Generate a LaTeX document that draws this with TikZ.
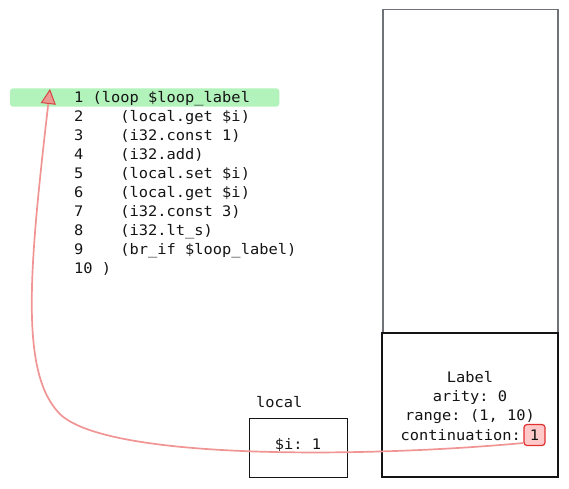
\documentclass[tikz,border=0pt]{standalone}
\usepackage{fontspec}
\setmonofont[FakeStretch=1.06]{DejaVu Sans Mono}
\usetikzlibrary{arrows.meta}
\definecolor{hlgreen}{HTML}{B2F2BB}
\definecolor{txt}{HTML}{141414}
\definecolor{linkred}{HTML}{F09494}
\definecolor{tipred}{HTML}{EB9A92}
\definecolor{tipedge}{HTML}{D64545}
\definecolor{onefill}{HTML}{FFC9C9}
\definecolor{oneedge}{HTML}{E03131}
\definecolor{stackgray}{HTML}{6F7277}
\begin{document}
\begin{tikzpicture}[x=1pt,y=-1pt,
  mono/.style={inner sep=0pt, font=\ttfamily\fontsize{14.5}{19}\selectfont, text=txt},
  code/.style={mono, anchor=base west},
  ctext/.style={mono, anchor=base},
  box/.style={draw=txt, inner sep=0pt},
  link/.style={draw=linkred, line width=1.7pt,
    -{Triangle[width=15pt,length=15pt,color=tipedge,fill=tipred,line width=1pt]}},
]
\useasboundingbox (0,0) rectangle (569,488);
% highlight of line 1
\node[fill=hlgreen, rounded corners=3pt, inner sep=0pt, minimum width=269.3pt,
      minimum height=18.4pt] (hl) at (144.65,97.5) {};
% code lines
\node[code] (l1)  at (74,102) {1 (loop \$loop\_label};
\node[code] (l2)  at (74,121) {2\hphantom{0000}(local.get \$i)};
\node[code] (l3)  at (74,140) {3\hphantom{0000}(i32.const 1)};
\node[code] (l4)  at (74,159) {4\hphantom{0000}(i32.add)};
\node[code] (l5)  at (74,178) {5\hphantom{0000}(local.set \$i)};
\node[code] (l6)  at (74,197) {6\hphantom{0000}(local.get \$i)};
\node[code] (l7)  at (74,216) {7\hphantom{0000}(i32.const 3)};
\node[code] (l8)  at (74,235) {8\hphantom{0000}(i32.lt\_s)};
\node[code] (l9)  at (74,254) {9\hphantom{0000}(br\_if \$loop\_label)};
\node[code] (l10) at (74,273) {10 )};
% stack column
\node[draw=stackgray, line width=1.4pt, inner sep=0pt, minimum width=175pt,
      minimum height=467.2pt] (stack) at (470.5,243.1) {};
\node[box, fill=white, line width=2pt, minimum width=175.5pt, minimum height=143.4pt]
      (frame) at (470,405) {};
\node[ctext] (lab)   at (470,382.5) {Label};
\node[ctext] (arity) at (470,401.5) {arity: 0};
\node[ctext] (range) at (470,420.5) {range: (1, 10)};
\node[mono, anchor=base east] (cont) at (521,440) {continuation:};
\node[mono, draw=oneedge, fill=onefill, line width=1.2pt, rounded corners=3pt,
      minimum width=21pt, minimum height=21pt] (one) at (534.5,435) {1};
% local
\node[code] (loclab) at (256,407) {local};
\node[box, line width=1pt, minimum width=98pt, minimum height=59pt]
      (localbox) at (298,447.5) {};
\node[ctext] (ival) at (298,449.5) {\$i: 1};
% continuation link
\coordinate (s) at ([yshift=-8pt]one.west);
\coordinate (j) at (58,412);
\coordinate (tip) at (50,89);
\draw[link] (s) .. controls (360,458) and (100,460) .. (j)
  .. controls (20,370) and (29.3,268) .. (tip);
\end{tikzpicture}
\end{document}
